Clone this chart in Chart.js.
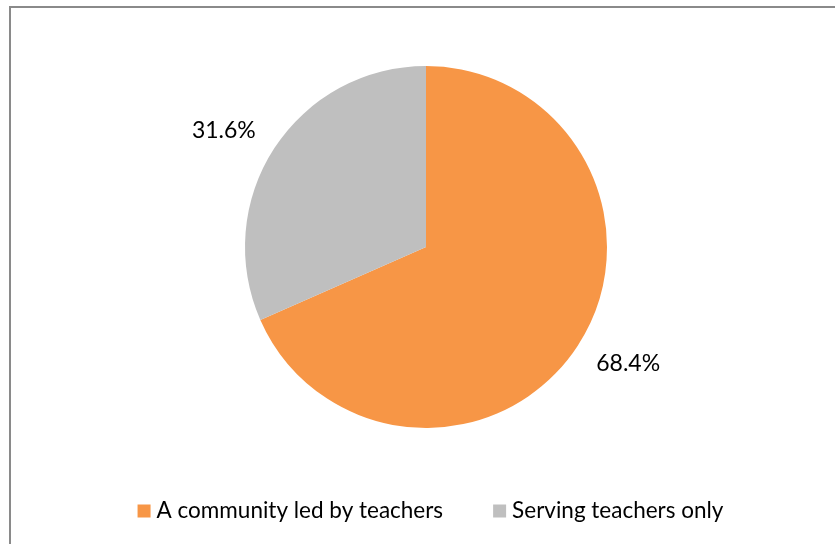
<!DOCTYPE html>
<html>
<head>
<meta charset="utf-8">
<script src="https://cdn.jsdelivr.net/npm/chart.js@4/dist/chart.umd.min.js"></script>
<style>
  html, body { margin: 0; padding: 0; background: #ffffff; }
  #wrap { position: relative; width: 835px; height: 544px; }
</style>
</head>
<body>
<div id="wrap"><canvas id="c" width="835" height="544"></canvas></div>
<script>
// Survey answer shares (percent)
const categories = ['A community led by teachers', 'Serving teachers only'];
const shares = [68.4, 31.6];
const sliceColors = ['#F79646', '#BFBFBF'];

const FONT = 'Lato, "Open Sans", sans-serif';

// Outer frame of the chart object
const framePlugin = {
  id: 'frame',
  beforeDraw(chart) {
    const ctx = chart.ctx;
    ctx.save();
    ctx.fillStyle = '#ffffff';
    ctx.fillRect(0, 0, chart.width, chart.height);
    ctx.strokeStyle = '#8a8a8a';
    ctx.lineWidth = 2;
    ctx.strokeRect(10, 7, chart.width + 20, chart.height + 20);
    ctx.restore();
  }
};

// Percentage labels placed outside each slice, near its mid angle
const outsideLabels = {
  id: 'outsideLabels',
  afterDatasetsDraw(chart) {
    const ctx = chart.ctx;
    const meta = chart.getDatasetMeta(0);
    ctx.save();
    ctx.font = '23px ' + FONT;
    ctx.fillStyle = '#000000';
    ctx.textAlign = 'center';
    ctx.textBaseline = 'middle';
    meta.data.forEach((arc, i) => {
      const p = arc.getProps(['x', 'y', 'startAngle', 'endAngle', 'outerRadius'], true);
      const mid = (p.startAngle + p.endAngle) / 2;
      const c = Math.cos(mid), s = Math.sin(mid);
      const d = p.outerRadius + 52;
      // nudge sideways and toward the horizontal axis
      const x = p.x + c * d + Math.sign(c) * 7;
      const y = p.y + s * d - Math.sign(s) * 11;
      ctx.fillText(shares[i].toFixed(1) + '%', x, y);
    });
    ctx.restore();
  }
};

// Legend row under the pie
const bottomLegend = {
  id: 'bottomLegend',
  afterDraw(chart) {
    const ctx = chart.ctx;
    ctx.save();
    ctx.font = '22.5px ' + FONT;
    ctx.textBaseline = 'middle';
    ctx.textAlign = 'left';
    const box = 13, gapText = 6, gapItem = 50;
    const widths = categories.map(t => ctx.measureText(t).width);
    const total = widths.reduce((a, w) => a + box + gapText + w, 0) + gapItem * (categories.length - 1);
    let x = 430.5 - total / 2;
    const y = 511;
    categories.forEach((t, i) => {
      ctx.fillStyle = sliceColors[i];
      ctx.fillRect(x, y - box / 2, box, box);
      x += box + gapText;
      ctx.fillStyle = '#000000';
      ctx.fillText(t, x, y);
      x += widths[i] + gapItem;
    });
    ctx.restore();
  }
};

new Chart(document.getElementById('c'), {
  type: 'pie',
  data: {
    labels: categories,
    datasets: [{
      data: shares,
      backgroundColor: sliceColors,
      borderWidth: 0
    }]
  },
  options: {
    responsive: false,
    animation: false,
    layout: { padding: { top: 66, bottom: 116, left: 17, right: 0 } },
    plugins: {
      legend: { display: false },
      tooltip: { enabled: false }
    }
  },
  plugins: [framePlugin, outsideLabels, bottomLegend]
});
</script>
</body>
</html>
